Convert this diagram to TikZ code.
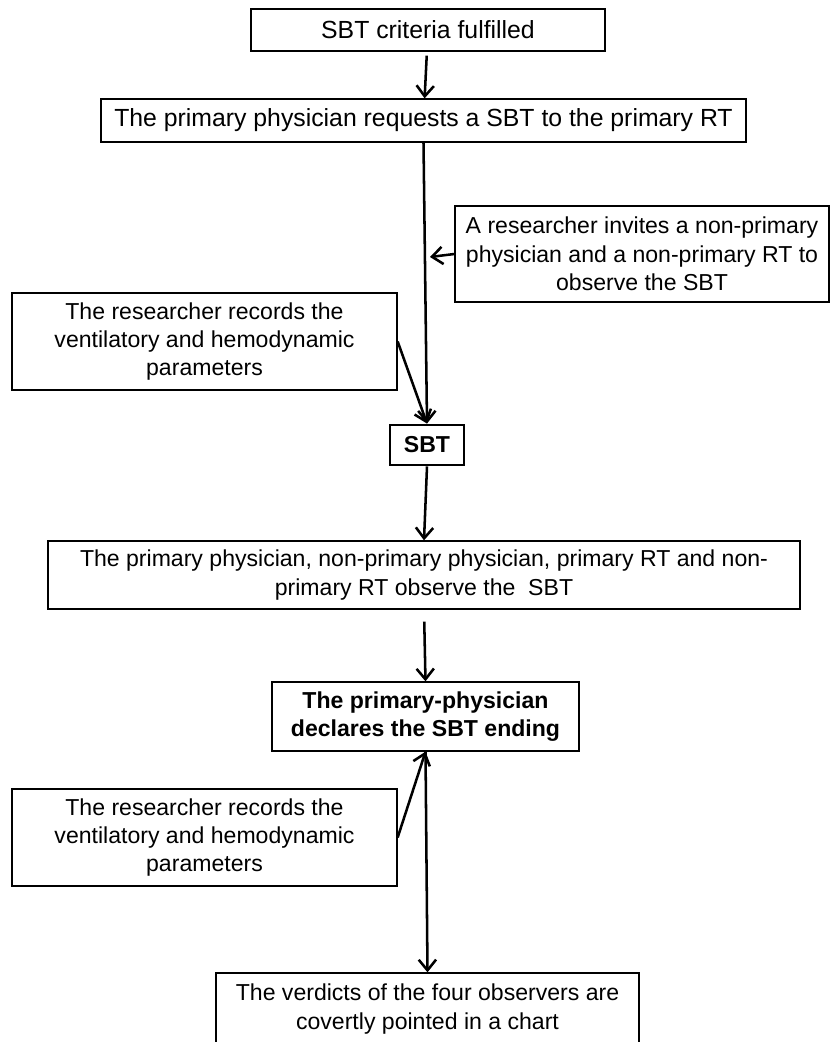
\documentclass[tikz,border=0pt]{standalone}
\usepackage{fontspec}
\setmainfont{Liberation Sans}
\usetikzlibrary{arrows.meta}
\tikzset{
    boxsize/.style 2 args={minimum width=#1*0.75pt, minimum height=#2*0.75pt},
    flowbox/.style={draw, line width=1pt, align=center, inner sep=0pt,
        font=\fontsize{17.3}{21.2}\selectfont},
    bigbox/.style={flowbox, font=\fontsize{18.6}{21.2}\selectfont},
    sbtbox/.style={flowbox, line width=2.2pt, font=\fontsize{17.3}{21.2}\selectfont\bfseries},
    flowarrow/.style={line width=1.9pt, -{Straight Barb[length=8pt,width=13pt]}}
}

\begin{document}
\begin{tikzpicture}[x=0.75pt,y=-0.75pt]
\useasboundingbox (0,0) rectangle (832,1042);
% main column
\node[bigbox, boxsize={354}{42}] (crit) at (428,30) {SBT criteria fulfilled};
\node[bigbox, boxsize={645}{43}] (req) at (423.5,120.5) {The primary physician requests a SBT to the primary RT};
\node[sbtbox, boxsize={74}{40}] (sbt) at (427,445) {SBT};
\node[flowbox, boxsize={752}{68}] (observe) at (424,575) {The primary physician,\ non-primary physician,\ primary RT and non-\\primary RT observe the\ \ SBT};
\node[flowbox, font=\fontsize{17.3}{21.2}\selectfont\bfseries, boxsize={307}{69}] (ending) at (425.5,716.5) {The primary-physician\\declares the SBT ending};
\node[flowbox, boxsize={423}{72}] (verdict) at (427.5,1009) {The verdicts of the four observers are\\covertly pointed in a chart};
% side boxes
\node[flowbox, boxsize={374}{96}] (invite) at (642,254) {A researcher invites a non-primary\\physician and a non-primary RT to\\observe the SBT};
\node[flowbox, boxsize={385}{97}] (recA) at (204.5,341.5) {The researcher records the\\ventilatory and hemodynamic\\parameters};
\node[flowbox, boxsize={385}{97}] (recB) at (204.5,837.5) {The researcher records the\\ventilatory and hemodynamic\\parameters};
\coordinate (hit) at (430,257);
% connectors
\draw[flowarrow, shorten <=3pt] (crit) -- (req);
\draw[flowarrow] (req.south) -- (sbt.north);
\draw[flowarrow] (invite.west) -- (hit);
\draw[flowarrow] (recA.east) -- (sbt.north);
\draw[flowarrow] (sbt.south) -- (observe.north);
\draw[flowarrow, shorten <=9pt] (observe.south) -- (ending.north);
\draw[flowarrow] (recB.east) -- (ending.south);
\draw[flowarrow] (ending.south) -- (verdict.north);
\end{tikzpicture}
\end{document}
